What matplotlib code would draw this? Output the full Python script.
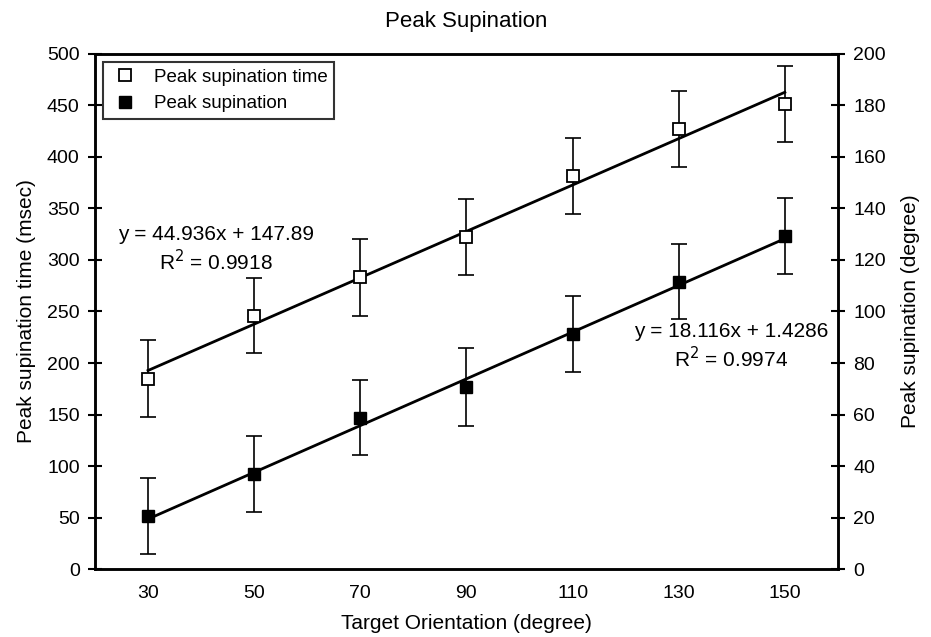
import numpy as np
import matplotlib.pyplot as plt

plt.rcParams['font.family'] = ['Liberation Sans', 'DejaVu Sans']

# 数据
orient = [30, 50, 70, 90, 110, 130, 150]
sup_time = [185, 246, 283, 322, 381, 427, 451]        # msec, left axis
sup_time_err = [37, 36, 37, 37, 37, 37, 37]
sup_angle = [20.8, 37.0, 58.8, 70.8, 91.2, 111.6, 129.2]  # degree, right axis
sup_angle_err = [14.7, 14.6, 14.6, 15.0, 14.8, 14.6, 14.8]

fit_time = (44.936, 147.89)
fit_angle = (18.116, 1.4286)

fig = plt.figure(figsize=(9.31, 6.37), dpi=100)
ax = fig.add_axes([0.102, 0.106, 0.798, 0.810])
ax2 = ax.twinx()

idx = np.array([1, 7])
xl = np.array([orient[0], orient[-1]])

ax.plot(xl, fit_time[0] * idx + fit_time[1], color='black', lw=2, zorder=2)
ax.errorbar(orient, sup_time, yerr=sup_time_err, fmt='none', ecolor='black',
            elinewidth=1.2, capsize=6, capthick=1.2, zorder=3)
h1, = ax.plot(orient, sup_time, 's', ms=8, mfc='white', mec='black', mew=1.3,
              zorder=4, label='Peak supination time')

ax2.plot(xl, fit_angle[0] * idx + fit_angle[1], color='black', lw=2, zorder=2)
ax2.errorbar(orient, sup_angle, yerr=sup_angle_err, fmt='none', ecolor='black',
             elinewidth=1.2, capsize=6, capthick=1.2, zorder=3)
h2, = ax2.plot(orient, sup_angle, 's', ms=8, mfc='black', mec='black',
               zorder=4, label='Peak supination')

ax.set_xlim(20, 160)
ax.set_ylim(0, 500)
ax2.set_ylim(0, 200)
ax.set_xticks(orient)
ax.set_yticks(range(0, 501, 50))
ax2.set_yticks(range(0, 201, 20))

ax.tick_params(axis='x', length=0, pad=11, labelsize=14)
ax.tick_params(axis='y', direction='inout', length=10, width=1.5, labelsize=14, pad=6)
ax2.tick_params(axis='y', direction='inout', length=10, width=1.5, labelsize=14, pad=6)
for a in (ax, ax2):
    for s in a.spines.values():
        s.set_linewidth(1.8)

ax.set_xlabel('Target Orientation (degree)', fontsize=15, labelpad=9)
ax.set_ylabel('Peak supination time (msec)', fontsize=15, labelpad=8)
ax2.set_ylabel('Peak supination (degree)', fontsize=15, labelpad=11)
ax.set_title('Peak Supination', fontsize=16, pad=19)

ax.text(42.8, 310, 'y = 44.936x + 147.89\nR$^2$ = 0.9918', fontsize=15,
        ha='center', va='center', linespacing=1.2, multialignment='center')
ax2.text(139.9, 86.4, 'y = 18.116x + 1.4286\nR$^2$ = 0.9974', fontsize=15,
         ha='center', va='center', linespacing=1.2, multialignment='center')

leg = ax2.legend(handles=[h1, h2], loc='upper left', bbox_to_anchor=(0.0, 1.0),
                 borderaxespad=0.45,
                 fontsize=13.5, frameon=True, fancybox=False, edgecolor='black',
                 handletextpad=0.75, handlelength=1.6, borderpad=0.35,
                 labelspacing=0.5)
leg.get_frame().set_linewidth(1.5)

plt.savefig('out.png')
